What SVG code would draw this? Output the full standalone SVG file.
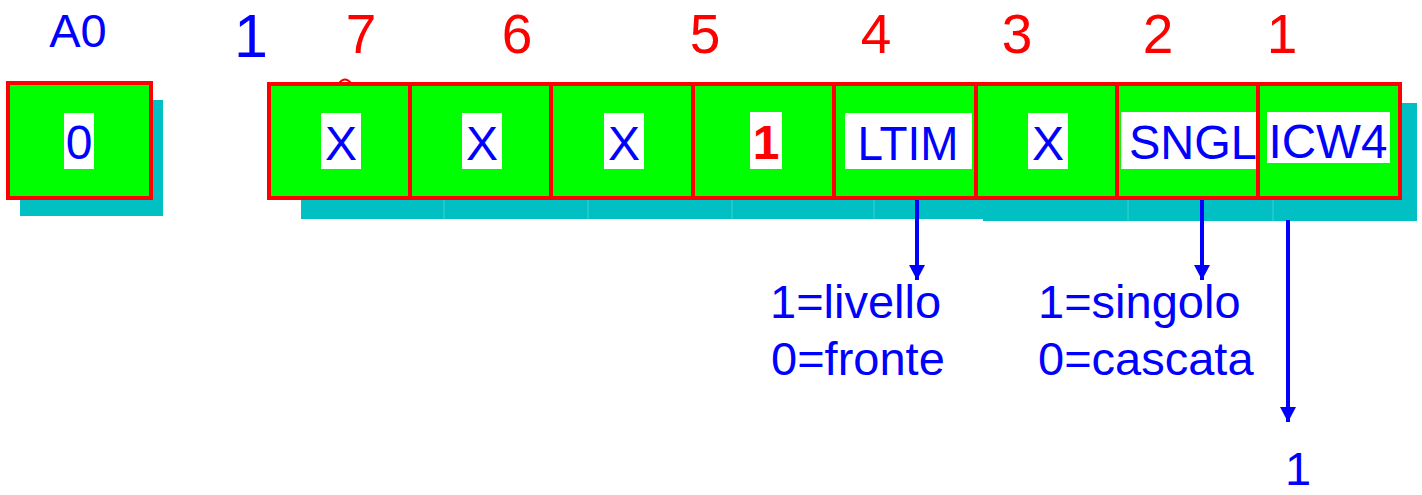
<svg xmlns="http://www.w3.org/2000/svg" width="1422" height="495" viewBox="0 0 1422 495">
  <style>
    .shadow { fill: #00C0C3; }
    .seam { stroke: #3ECFD0; stroke-width: 1; }
    .cell { fill: #00FF00; stroke: #FF0000; stroke-width: 4; }
    .lbl-bg { fill: #FFFFFF; }
    .t { font-family: "Liberation Sans", Arial, sans-serif; }
    .cell-txt { font-size: 48px; fill: #0000FF; text-anchor: middle; }
    .bit { font-size: 55px; fill: #FF0000; text-anchor: middle; }
    .note { font-size: 47px; fill: #0000FF; }
    .wire { stroke: #0000FF; stroke-width: 4; fill: none; }
  </style>
  <defs>
    <marker id="head" markerUnits="userSpaceOnUse" markerWidth="16" markerHeight="16" refX="15" refY="8" orient="auto">
      <path d="M0,0 L15,8 L0,16 Z" fill="#0000FF"/>
    </marker>
  </defs>
  <rect width="1422" height="495" fill="#FFFFFF"/>

  <!-- header labels -->
  <g id="headers" class="t">
    <text x="78" y="47" font-size="47" fill="#0000FF" text-anchor="middle">A0</text>
    <text x="251" y="57" font-size="61" fill="#0000FF" text-anchor="middle">1</text>
    <text class="bit" x="361" y="53">7</text>
    <text class="bit" x="517" y="53">6</text>
    <text class="bit" x="705" y="53">5</text>
    <text class="bit" x="876" y="53">4</text>
    <text class="bit" x="1017" y="53">3</text>
    <text class="bit" x="1158" y="53">2</text>
    <text class="bit" x="1282" y="53">1</text>
  </g>

  <!-- A0 register cell -->
  <g id="a0-cell">
    <rect class="shadow" x="20" y="100" width="143" height="116"/>
    <rect class="cell" x="8" y="83" width="143" height="115"/>
    <rect class="lbl-bg" x="64" y="113" width="30" height="56"/>
    <text class="t cell-txt" x="79" y="159">0</text>
  </g>

  <!-- shadow under the bit row -->
  <g id="row-shadow">
    <rect class="shadow" x="301" y="103" width="682" height="116"/>
    <rect class="shadow" x="983" y="103" width="434" height="118"/>
    <line class="seam" x1="444" y1="200" x2="444" y2="219"/>
    <line class="seam" x1="588" y1="200" x2="588" y2="219"/>
    <line class="seam" x1="732" y1="200" x2="732" y2="219"/>
    <line class="seam" x1="874" y1="200" x2="874" y2="219"/>
    <line class="seam" x1="1128" y1="200" x2="1128" y2="221"/>
    <line class="seam" x1="1273" y1="200" x2="1273" y2="221"/>
  </g>

  <path d="M339,83 Q345,76 351,83" fill="none" stroke="#FF0000" stroke-width="2"/>

  <!-- bit cells D7..D0 -->
  <g id="bit7">
    <rect class="cell" x="269" y="84" width="141" height="114"/>
    <rect class="lbl-bg" x="321" y="113" width="40" height="56"/>
    <text class="t cell-txt" x="341" y="160">X</text>
  </g>
  <g id="bit6">
    <rect class="cell" x="410" y="84" width="141" height="114"/>
    <rect class="lbl-bg" x="462" y="113" width="40" height="56"/>
    <text class="t cell-txt" x="482" y="160">X</text>
  </g>
  <g id="bit5">
    <rect class="cell" x="551" y="84" width="142" height="114"/>
    <rect class="lbl-bg" x="604" y="113" width="40" height="56"/>
    <text class="t cell-txt" x="624" y="160">X</text>
  </g>
  <g id="bit4">
    <rect class="cell" x="693" y="84" width="141" height="114"/>
    <rect class="lbl-bg" x="750" y="112" width="32" height="57"/>
    <text class="t cell-txt" x="766" y="159" style="fill:#FF0000" font-weight="bold">1</text>
  </g>
  <g id="bit3">
    <rect class="cell" x="834" y="84" width="142" height="114"/>
    <rect class="lbl-bg" x="845" y="113" width="127" height="56"/>
    <text class="t cell-txt" x="908" y="160" textLength="101" lengthAdjust="spacingAndGlyphs">LTIM</text>
  </g>
  <g id="bit2">
    <rect class="cell" x="976" y="84" width="141" height="114"/>
    <rect class="lbl-bg" x="1028" y="113" width="40" height="56"/>
    <text class="t cell-txt" x="1048" y="160">X</text>
  </g>
  <g id="bit1">
    <rect class="cell" x="1117" y="84" width="141" height="114"/>
    <rect class="lbl-bg" x="1121" y="112" width="136" height="57"/>
    <text class="t cell-txt" x="1193" y="159" textLength="128" lengthAdjust="spacingAndGlyphs">SNGL</text>
  </g>
  <g id="bit0">
    <rect class="cell" x="1258" y="84" width="142" height="114"/>
    <rect class="lbl-bg" x="1267" y="112" width="123" height="51"/>
    <text class="t cell-txt" x="1328" y="158" textLength="119" lengthAdjust="spacingAndGlyphs">ICW4</text>
  </g>

  <!-- connectors -->
  <g id="connectors">
    <line class="wire" x1="917" y1="200" x2="917" y2="280" marker-end="url(#head)"/>
    <line class="wire" x1="1202" y1="200" x2="1202" y2="280" marker-end="url(#head)"/>
    <line class="wire" x1="1288" y1="220" x2="1288" y2="422" marker-end="url(#head)"/>
  </g>

  <!-- explanations -->
  <g id="ltim-note" class="t note">
    <text x="770" y="318">1=livello</text>
    <text x="771" y="375">0=fronte</text>
  </g>
  <g id="sngl-note" class="t note">
    <text x="1038" y="318">1=singolo</text>
    <text x="1038" y="375">0=cascata</text>
  </g>
  <g id="icw4-note" class="t note">
    <text x="1285" y="485">1</text>
  </g>
</svg>
